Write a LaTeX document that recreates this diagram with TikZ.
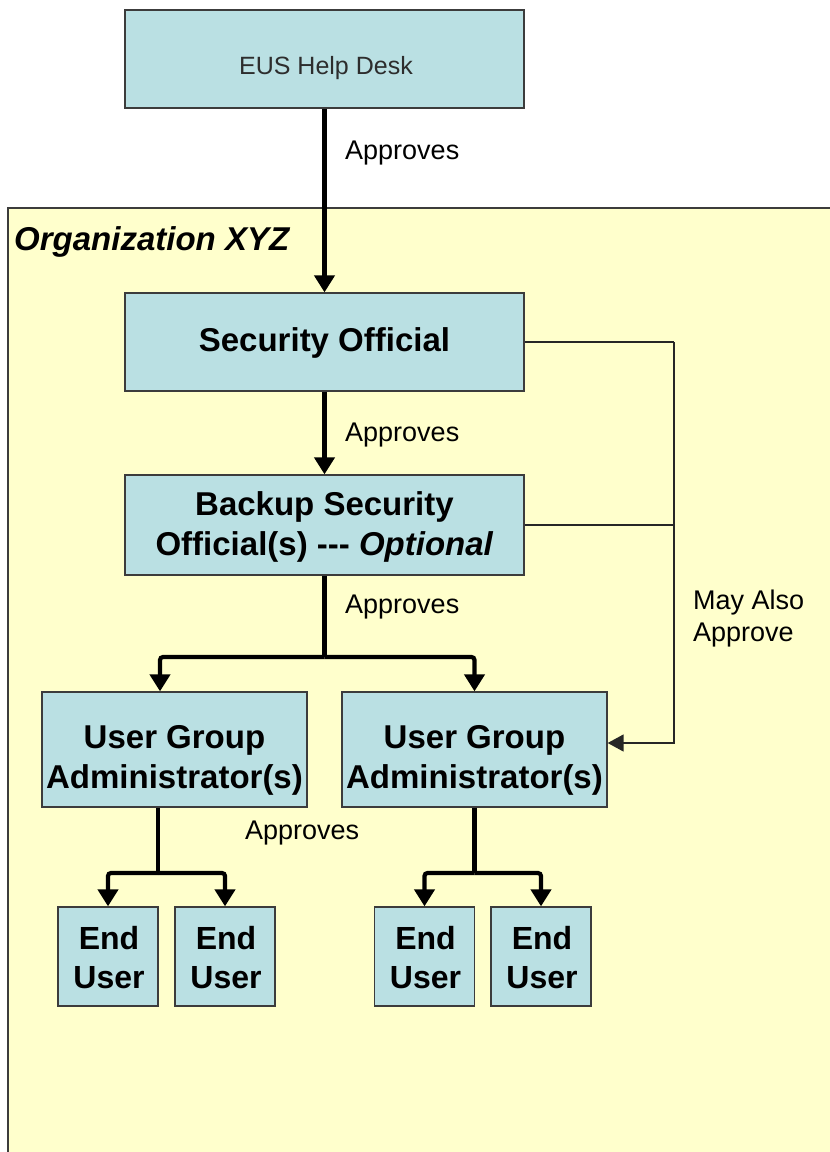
\documentclass[tikz,border=0pt]{standalone}
\usepackage{fontspec}
\setmainfont{Liberation Sans}
\usetikzlibrary{arrows.meta,calc}
\definecolor{boxfill}{RGB}{186,224,227}
\definecolor{boxline}{RGB}{60,60,60}
\definecolor{orgfill}{RGB}{255,255,204}
\definecolor{darktext}{RGB}{45,45,45}
\begin{document}
\begin{tikzpicture}[x=1pt,y=-1pt,
  box/.style={draw=boxline, fill=boxfill, line width=1.3pt, inner sep=0pt, align=center},
  boxtext/.style={font=\fontsize{33}{40}\selectfont\bfseries, align=center, inner sep=0pt},
  eutext/.style={font=\fontsize{32}{39}\selectfont\bfseries, align=center, inner sep=0pt},
  lbl/.style={font=\fontsize{27}{32}\selectfont, anchor=west, inner sep=0pt, align=left},
  tl/.style={line width=4.2pt, rounded corners=3pt},
  thinl/.style={line width=1.6pt, draw=black!85},
  tip/.style={-{Triangle[length=17pt,width=20pt]}}
]
\useasboundingbox (0,0) rectangle (830,1152);
\fill[white] (0,0) rectangle (830,1152);
% organization area
\coordinate (orgnw) at (8,208);
\coordinate (orgse) at (845,1165);
\fill[orgfill] (orgnw) rectangle (orgse);
\draw[line width=1.6pt, draw=boxline] (orgse |- orgnw) -- (orgnw) -- (orgnw |- orgse);
\node[font=\fontsize{33}{38}\selectfont\bfseries\itshape, anchor=west, inner sep=0pt] (org) at (14,242) {Organization XYZ};

% boxes
\node[box, minimum width=399pt, minimum height=98pt] (eus) at (324.5,59) {};
\node[font=\fontsize{25}{30}\selectfont, text=darktext, inner sep=0pt] (eust) at (326,68) {EUS Help Desk};
\node[box, minimum width=399pt, minimum height=98pt] (so) at (324.5,342) {};
\node[boxtext] (sot) at (324.5,343) {Security Official};
\node[box, minimum width=399pt, minimum height=100pt] (bk) at (324.5,525) {};
\node[boxtext] (bkt) at (324.5,527) {Backup Security\\Official(s) {-}{-}{-} \textit{Optional}};
\node[box, minimum width=265pt, minimum height=115pt] (ug1) at (174.5,749.5) {};
\node[boxtext] (ug1t) at (174.5,760) {User Group\\Administrator(s)};
\node[box, minimum width=265pt, minimum height=115pt] (ug2) at (474.5,749.5) {};
\node[boxtext] (ug2t) at (474.5,760) {User Group\\Administrator(s)};
\node[box, minimum width=100pt, minimum height=99pt] (eu1) at (108,956.5) {};
\node[eutext] (eu1t) at (109,958) {End\\User};
\node[box, minimum width=100pt, minimum height=99pt] (eu2) at (225,956.5) {};
\node[eutext] (eu2t) at (226,958) {End\\User};
\node[box, minimum width=100pt, minimum height=99pt] (eu3) at (424.5,956.5) {};
\node[eutext] (eu3t) at (425.5,958) {End\\User};
\node[box, minimum width=100pt, minimum height=99pt] (eu4) at (541,956.5) {};
\node[eutext] (eu4t) at (542,958) {End\\User};

% main approval arrows
\draw[tl, tip] (eus.south) -- (so.north);
\draw[tl, tip] (so.south) -- (bk.north);
\coordinate (j1) at (324.5,657);
\coordinate (a1) at (160,657);
\coordinate (a2) at (474.5,657);
\draw[tl] (bk.south) -- (j1);
\draw[tl, tip] (j1) -- (a1) -- (a1 |- ug1.north);
\draw[tl, tip] (j1) -- (a2) -- (a2 |- ug2.north);

% UGA1 -> end users
\coordinate (b1) at (158,873);
\draw[tl] (b1 |- ug1.south) -- (b1);
\draw[tl, tip] (b1) -- (eu1.north |- b1) -- (eu1.north);
\draw[tl, tip] (b1) -- (eu2.north |- b1) -- (eu2.north);
% UGA2 -> end users
\coordinate (b2) at (474.5,873);
\draw[tl] (b2 |- ug2.south) -- (b2);
\draw[tl, tip] (b2) -- (eu3.north |- b2) -- (eu3.north);
\draw[tl, tip] (b2) -- (eu4.north |- b2) -- (eu4.north);

% may also approve
\coordinate (r1) at (674,342);
\coordinate (r2) at (674,743);
\draw[thinl] (so.east) -- (r1);
\draw[thinl] (bk.east) -- (bk.east -| r1);
\draw[thinl, -{Triangle[length=16pt,width=17pt]}] (r1) -- (r2) -- (r2 -| ug2.east);

% labels
\node[lbl] (l1) at (345,153) {Approves};
\node[lbl] (l2) at (345,435) {Approves};
\node[lbl] (l3) at (345,607) {Approves};
\node[lbl] (l4) at (245,833) {Approves};
\node[lbl, font=\fontsize{27}{32}\selectfont] (l5) at (693,619) {May Also\\Approve};
\end{tikzpicture}
\end{document}
